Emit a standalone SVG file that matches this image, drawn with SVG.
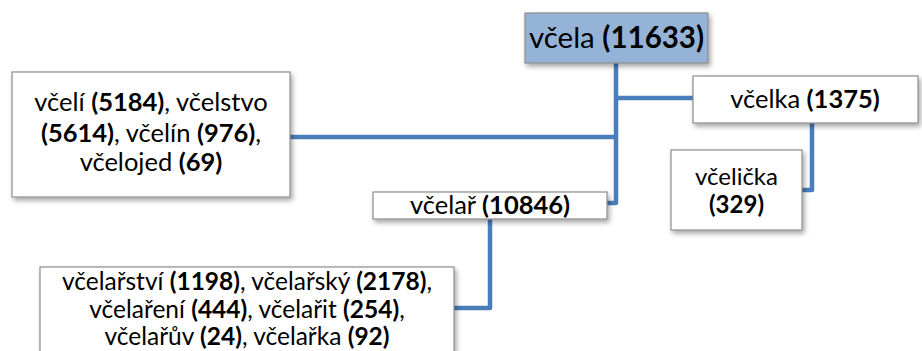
<svg xmlns="http://www.w3.org/2000/svg" width="922" height="351" viewBox="0 0 922 351">
  <defs>
    <filter id="shadow" x="-10%" y="-20%" width="130%" height="160%">
      <feDropShadow dx="2" dy="3" stdDeviation="2.5" flood-color="#000" flood-opacity="0.35"/>
    </filter>
    <style>
      .box { fill: #ffffff; stroke: #8c8c8c; stroke-width: 1.2; filter: url(#shadow); }
      .root { fill: #95b3d7; }
      .conn { fill: none; stroke: #4a7ebb; stroke-width: 4.5; stroke-linejoin: round; }
      text { font-family: Lato, "Liberation Sans", sans-serif; fill: #000; text-anchor: middle; }
      .b { font-weight: bold; }
    </style>
  </defs>

  <g id="connectors">
    <path class="conn" d="M616,63 V203 H607"/>
    <path class="conn" d="M616,137 H290"/>
    <path class="conn" d="M616,98 H693"/>
    <path class="conn" d="M812,123 V190 H802"/>
    <path class="conn" d="M490,219 V308 H454"/>
  </g>

  <g id="vcela">
    <rect class="box root" x="525" y="13" width="183" height="50"/>
    <text x="616.5" y="48" font-size="29.5">včela <tspan class="b">(11633)</tspan></text>
  </g>

  <g id="vceli">
    <rect class="box" x="12" y="72" width="278" height="125"/>
    <text x="151" y="111" font-size="25.5">včelí <tspan class="b">(5184)</tspan>, včelstvo</text>
    <text x="151" y="142" font-size="25.5"><tspan class="b">(5614)</tspan>, včelín <tspan class="b">(976)</tspan>,</text>
    <text x="151" y="171" font-size="25.5">včelojed <tspan class="b">(69)</tspan></text>
  </g>

  <g id="vcelka">
    <rect class="box" x="693" y="76" width="225" height="47"/>
    <text x="805" y="108" font-size="25.5">včelka <tspan class="b">(1375)</tspan></text>
  </g>

  <g id="vcelicka">
    <rect class="box" x="671" y="150" width="131" height="80"/>
    <text x="736.5" y="185" font-size="24">včelička</text>
    <text x="736.5" y="213" font-size="24" class="b">(329)</text>
  </g>

  <g id="vcelar">
    <rect class="box" x="373" y="192" width="234" height="27"/>
    <text x="490" y="214" font-size="25.5">včelař <tspan class="b">(10846)</tspan></text>
  </g>

  <g id="vcelarstvi">
    <rect class="box" x="40" y="267" width="414" height="100"/>
    <text x="247" y="290" font-size="24.5">včelařství <tspan class="b">(1198)</tspan>, včelařský <tspan class="b">(2178)</tspan>,</text>
    <text x="247" y="318" font-size="24.5">včelaření <tspan class="b">(444)</tspan>, včelařit <tspan class="b">(254)</tspan>,</text>
    <text x="247" y="345" font-size="24.5">včelařův <tspan class="b">(24)</tspan>, včelařka <tspan class="b">(92)</tspan></text>
  </g>
</svg>
